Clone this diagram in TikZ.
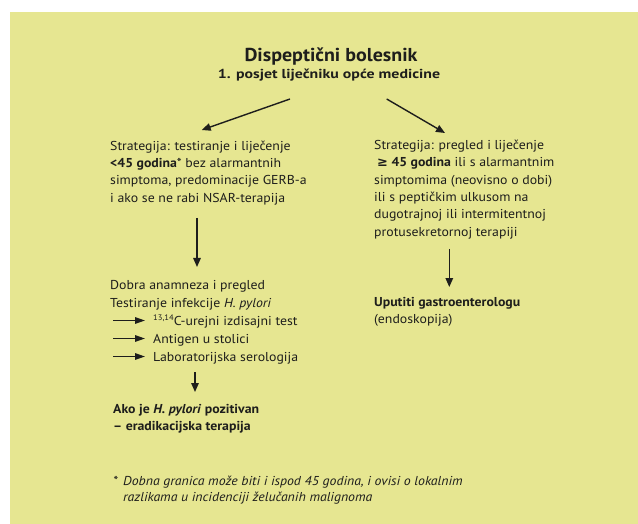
\documentclass[tikz,border=0pt]{standalone}
\usepackage{fontspec}
\setmainfont{PT Sans}[FakeStretch=1.07]
\newfontfamily\subfont{PT Sans}[FakeStretch=1.22]
\newfontfamily\symfont{DejaVu Sans}
\usetikzlibrary{arrows.meta}
\definecolor{bg}{RGB}{230,230,145}
\definecolor{ink}{RGB}{30,30,28}
\tikzset{
  txt/.style={anchor=north west, inner sep=0pt, align=left, text=ink, font=\fontsize{12.9}{17.3}\selectfont},
  basetxt/.style={anchor=base west, inner sep=0pt, text=ink, font=\fontsize{12.9}{17.3}\selectfont},
  arr/.style={draw=ink, line width=1.4pt, -{Triangle[length=9pt,width=7.5pt]}},
  smallarr/.style={draw=ink, line width=1.4pt, -{Triangle[length=10pt,width=6.5pt]}}
}
\begin{document}
\begin{tikzpicture}[x=1pt,y=-1pt]
\useasboundingbox (0,0) rectangle (638,524);
\fill[bg] (10,12) rectangle (638,524);
% title
\node[anchor=base, inner sep=0pt, text=ink, font=\fontsize{18.7}{20}\selectfont\bfseries] (title) at (331,61.7) {Dispeptični bolesnik};
\node[anchor=base, inner sep=0pt, text=ink, font=\fontsize{13}{15}\subfont\bfseries] (sub) at (329,78.3) {1. posjet liječniku opće medicine};
% top arrows
\coordinate (tl) at (290,99);
\coordinate (tlE) at (201.7,130);
\coordinate (tr) at (386.7,99);
\coordinate (trE) at (445,133);
\draw[arr] (tl) -- (tlE);
\draw[arr] (tr) -- (trE);
% left strategy
\node[txt] (left) at (110,140.5) {Strategija: testiranje i liječenje\\
\textbf{<45 godina}* bez alarmantnih\\
simptoma, predominacije GERB-a\\
i ako se ne rabi NSAR-terapija};
% right strategy
\node[txt] (right) at (374,140) {Strategija: pregled i liječenje\\
\hspace{3pt}{\symfont\bfseries ≥}\textbf{ 45 godina} ili s alarmantnim\\
simptomima (neovisno o dobi)\\
ili s peptičkim ulkusom na\\
dugotrajnoj ili intermitentnoj\\
protusekretornoj terapiji};
% left down arrow
\coordinate (ld1) at (197,218);
\coordinate (ld1E) at (197,267);
\draw[arr] (ld1) -- (ld1E);
% right down arrow
\coordinate (rd1) at (449.3,249);
\coordinate (rd1E) at (449.3,287);
\draw[arr] (rd1) -- (rd1E);
% testing
\node[txt] (test) at (110,280.5) {Dobra anamneza i pregled\\
Testiranje infekcije \textit{H. pylori}};
\node[basetxt] (t1) at (153,325) {\raisebox{5pt}{\fontsize{8}{8}\selectfont 13,14}C-urejni izdisajni test};
\node[basetxt] (t2) at (153,343) {Antigen u stolici};
\node[basetxt] (t3) at (153,361) {Laboratorijska serologija};
\coordinate (s1) at (113,320.5); \coordinate (e1) at (145,320.5);
\coordinate (s2) at (113,338.5); \coordinate (e2) at (145,338.5);
\coordinate (s3) at (113,356.5); \coordinate (e3) at (145,356.5);
\draw[smallarr] (s1) -- (e1);
\draw[smallarr] (s2) -- (e2);
\draw[smallarr] (s3) -- (e3);
\coordinate (ld2) at (195,372);
\coordinate (ld2E) at (195,392);
\draw[arr] (ld2) -- (ld2E);
\node[txt, font=\fontsize{12.9}{17}\selectfont\bfseries] (erad) at (113,404.5) {Ako je \textit{H. pylori} pozitivan\\
– eradikacijska terapija};
% right result
\node[txt] (gastro) at (374,297) {\textbf{Uputiti gastroenterologu}\\
(endoskopija)};
% footnote
\node[basetxt, font=\fontsize{12.9}{16.7}\selectfont\itshape] (star) at (113,485) {*};
\node[txt, font=\fontsize{12.9}{16.7}\selectfont\itshape] (foot) at (123,475.5) {Dobna granica može biti i ispod 45 godina, i ovisi o lokalnim\\
razlikama u incidenciji želučanih malignoma};
\end{tikzpicture}
\end{document}
